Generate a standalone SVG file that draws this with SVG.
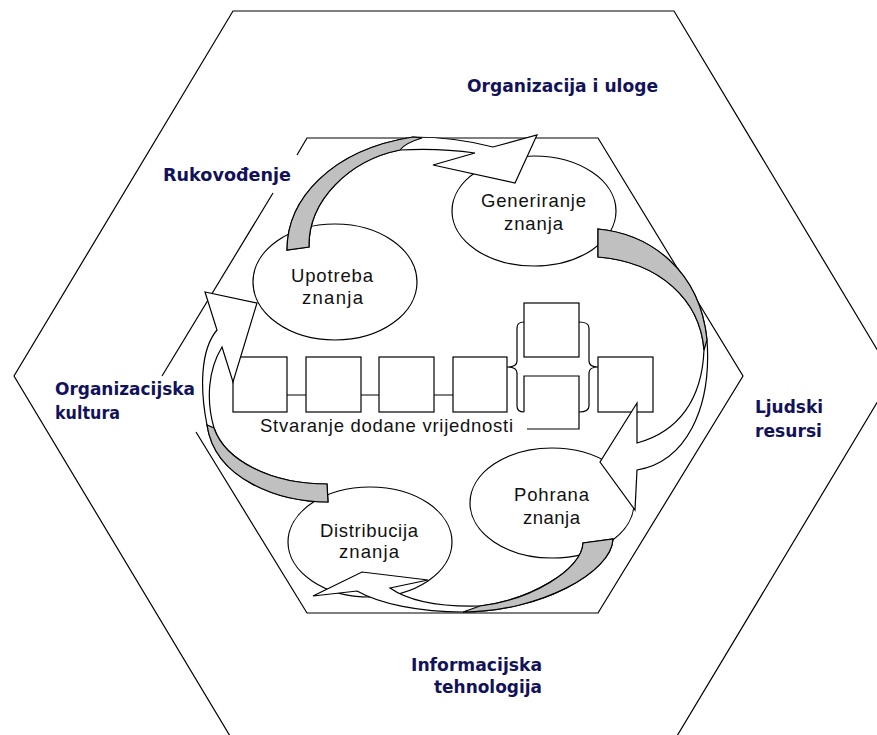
<svg xmlns="http://www.w3.org/2000/svg" width="877" height="735" viewBox="0 0 877 735">
<style>
.ln{fill:none;stroke:#000;stroke-width:1.2}
.bx{fill:#fff;stroke:#000;stroke-width:1.2}
.el{fill:#fff;stroke:#000;stroke-width:1.2}
.arr{fill:#fff;stroke:#000;stroke-width:1.2;stroke-linejoin:miter}
.gr{fill:#c0c0c0;stroke:#000;stroke-width:1.2}
.t{font-family:"Liberation Sans",Arial,sans-serif;font-size:18.5px;fill:#111}
.lb{font-family:"DejaVu Sans",Verdana,sans-serif;font-weight:bold;font-size:17px;fill:#12125a}
</style>
<rect width="877" height="735" fill="#fff"/>
<g id="outer-hexagon">
<polygon class="ln" points="233,11 674,11 893,376 674,741 233,741 14,376"/>
</g>
<g id="inner-hexagon">
<polyline class="ln" points="297,155 307,138 598,138 743,376 598,613 307,613 196,432"/>
<polyline class="ln" points="273,193 162,376"/>
</g>
<g id="label-organizacija-i-uloge"><text class="lb" x="467" y="92" textLength="191" lengthAdjust="spacingAndGlyphs">Organizacija i uloge</text></g>
<g id="label-rukovodenje"><text class="lb" x="163" y="181" textLength="128" lengthAdjust="spacingAndGlyphs">Rukovođenje</text></g>
<g id="label-organizacijska-kultura">
<text class="lb" x="55" y="395" textLength="140" lengthAdjust="spacingAndGlyphs">Organizacijska</text>
<text class="lb" x="55" y="419" textLength="65" lengthAdjust="spacingAndGlyphs">kultura</text>
</g>
<g id="label-ljudski-resursi">
<text class="lb" x="755" y="413" textLength="68" lengthAdjust="spacingAndGlyphs">Ljudski</text>
<text class="lb" x="755" y="437" textLength="67" lengthAdjust="spacingAndGlyphs">resursi</text>
</g>
<g id="label-informacijska-tehnologija">
<text class="lb" x="411" y="671" textLength="131" lengthAdjust="spacingAndGlyphs">Informacijska</text>
<text class="lb" x="434" y="693" textLength="108" lengthAdjust="spacingAndGlyphs">tehnologija</text>
</g>
<g id="value-chain">
<rect class="bx" x="233" y="357" width="54" height="55"/>
<rect class="bx" x="306" y="357" width="55" height="55"/>
<rect class="bx" x="379" y="357" width="55" height="55"/>
<rect class="bx" x="453" y="357" width="54" height="55"/>
<rect class="bx" x="524" y="303" width="55" height="54"/>
<path class="ln" d="M524,412 V376 H579 V429 H527"/>
<rect class="bx" x="598" y="357" width="55" height="55"/>
<text class="t" x="260" y="432" textLength="253" lengthAdjust="spacing">Stvaranje dodane vrijednosti</text>
</g>
<g id="chain-links">
<path class="ln" d="M287,395 H306 M361,395 H379 M434,395 H453"/>
<path class="ln" d="M524,322 Q517,322 517,328 V361 Q517,367 507,367 Q517,367 517,373 V406 Q517,412 524,412"/>
<path class="ln" d="M579,322 Q589,322 589,328 V361 Q589,367 598,367 Q589,367 589,373 V406 Q589,412 579,412"/>
</g>
<g id="node-generiranje">
<ellipse class="el" cx="534" cy="211" rx="82" ry="55"/>
<text class="t" x="481" y="207" textLength="105" lengthAdjust="spacing">Generiranje</text>
<text class="t" x="504" y="230" textLength="59" lengthAdjust="spacing">znanja</text>
</g>
<g id="node-upotreba">
<ellipse class="el" cx="335" cy="282" rx="82" ry="58"/>
<text class="t" x="291" y="282" textLength="82" lengthAdjust="spacing">Upotreba</text>
<text class="t" x="302" y="304" textLength="61" lengthAdjust="spacing">znanja</text>
</g>
<g id="node-pohrana">
<ellipse class="el" cx="552" cy="503" rx="82" ry="55"/>
<text class="t" x="514" y="501" textLength="75" lengthAdjust="spacing">Pohrana</text>
<text class="t" x="523" y="524" textLength="57" lengthAdjust="spacing">znanja</text>
</g>
<g id="node-distribucija">
<ellipse class="el" cx="370" cy="542" rx="82" ry="55"/>
<text class="t" x="320" y="537" textLength="98" lengthAdjust="spacing">Distribucija</text>
<text class="t" x="339" y="558" textLength="60" lengthAdjust="spacing">znanja</text>
</g>
<g id="cycle-arrows">
<path class="arr" d="M287,250 C287,200 330,150 413,137 Q455,137 493,147 L537,135 L515,183 L433,165 L475,153 Q440,148 400,150 C350,160 308,200 309,247 Z"/>
<path class="gr" d="M287,250 C287,200 330,150 413,137 L422,138 Q405,143 400,150 C350,160 308,200 309,247 Z"/>
<path class="arr" d="M598,229 C650,234 700,270 707,340 C712,410 685,462 637,470 L635,510 L600,462 L637,403 L637,443 C678,432 702,400 704,350 C700,300 660,262 598,257 Z"/>
<path class="gr" d="M598,229 C650,234 700,270 707,340 L704,350 C700,300 660,262 598,257 Z"/>
<path class="arr" d="M613,539 C612,572 540,612 463,612 C420,612 380,604 357,591 L313,596 L362,572 L428,580 L390,588 C410,602 440,607 480,606 C530,600 582,570 583,543 Z"/>
<path class="gr" d="M613,539 C612,572 540,612 463,612 L480,606 C530,600 582,570 583,543 Z"/>
<path class="arr" d="M328,502 C280,502 215,480 207,425 C200,390 200,350 217,330 L205,292 L257,303 L233,382 L222,347 C208,370 206,400 214,428 C225,460 270,484 327,484 Z"/>
<path class="gr" d="M328,502 C280,502 215,480 207,425 L214,428 C225,460 270,484 327,484 Z"/>
</g>
</svg>
